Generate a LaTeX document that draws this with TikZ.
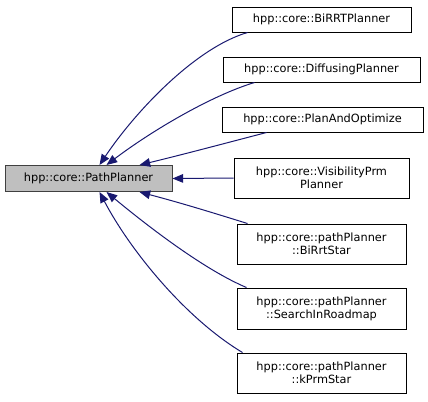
\documentclass[tikz,border=0pt]{standalone}
\usepackage{fontspec}
\setmainfont{DejaVu Sans}
\usetikzlibrary{arrows.meta}
\definecolor{edgeblue}{HTML}{191970}
\definecolor{mainfill}{HTML}{BFBFBF}
\definecolor{mainborder}{HTML}{404040}
\begin{document}
\begin{tikzpicture}[x=0.75pt,y=-0.75pt,
  box/.style={draw=black,line width=0.75pt,inner sep=0pt,font=\fontsize{8.5pt}{9.8pt}\selectfont,align=center},
  mainbox/.style={box,draw=mainborder,fill=mainfill},
  edge/.style={draw=edgeblue,line width=0.75pt,-{Triangle[length=8pt,width=6.5pt]}}]
\useasboundingbox (0,0) rectangle (428,401);
% nodes (pixel coordinates, y downward)
\node[mainbox,minimum width=167*0.75pt,minimum height=26*0.75pt] (main) at (88.5,178.5) {hpp::core::PathPlanner};
\node[box,minimum width=179*0.75pt,minimum height=25*0.75pt] (birrt) at (321.5,19.5) {hpp::core::BiRRTPlanner};
\node[box,minimum width=197*0.75pt,minimum height=25*0.75pt] (diff) at (321.5,69.5) {hpp::core::DiffusingPlanner};
\node[box,minimum width=201*0.75pt,minimum height=25*0.75pt] (plan) at (322.5,119.5) {hpp::core::PlanAndOptimize};
\node[box,minimum width=175*0.75pt,minimum height=40*0.75pt] (vis) at (321.5,178) {hpp::core::VisibilityPrm\\Planner};
\node[box,minimum width=169*0.75pt,minimum height=40*0.75pt] (birrtstar) at (321.5,244) {hpp::core::pathPlanner\\::BiRrtStar};
\node[box,minimum width=169*0.75pt,minimum height=41*0.75pt] (search) at (321.5,308.5) {hpp::core::pathPlanner\\::SearchInRoadmap};
\node[box,minimum width=169*0.75pt,minimum height=40*0.75pt] (kprm) at (321.5,373) {hpp::core::pathPlanner\\::kPrmStar};
% anchor points on main
\coordinate (m1) at ([xshift=95*0.75pt]main.north west);
\coordinate (m2) at ([xshift=102*0.75pt]main.north west);
\coordinate (m3) at ([xshift=135*0.75pt]main.north west);
\coordinate (m5) at ([xshift=135*0.75pt]main.south west);
\coordinate (m6) at ([xshift=102*0.75pt]main.south west);
\coordinate (m7) at ([xshift=95*0.75pt]main.south west);
% connectors
\draw[edge] ([xshift=16*0.75pt]birrt.south west) .. controls (195,48) and (135,112) .. (m1);
\draw[edge] ([xshift=32*0.75pt]diff.south west) .. controls (210,96) and (150,132) .. (m2);
\draw[edge] ([xshift=45*0.75pt]plan.south west) .. controls (230,142) and (185,154) .. (m3);
\draw[edge] (vis.west) -- (main.east);
\draw[edge] ([xshift=11*0.75pt]birrtstar.north west) .. controls (220,215) and (185,204) .. (m5);
\draw[edge] ([xshift=10*0.75pt]search.north west) .. controls (205,270) and (150,228) .. (m6);
\draw[edge] ([xshift=6*0.75pt]kprm.north west) .. controls (185,318) and (130,250) .. (m7);
\end{tikzpicture}
\end{document}
